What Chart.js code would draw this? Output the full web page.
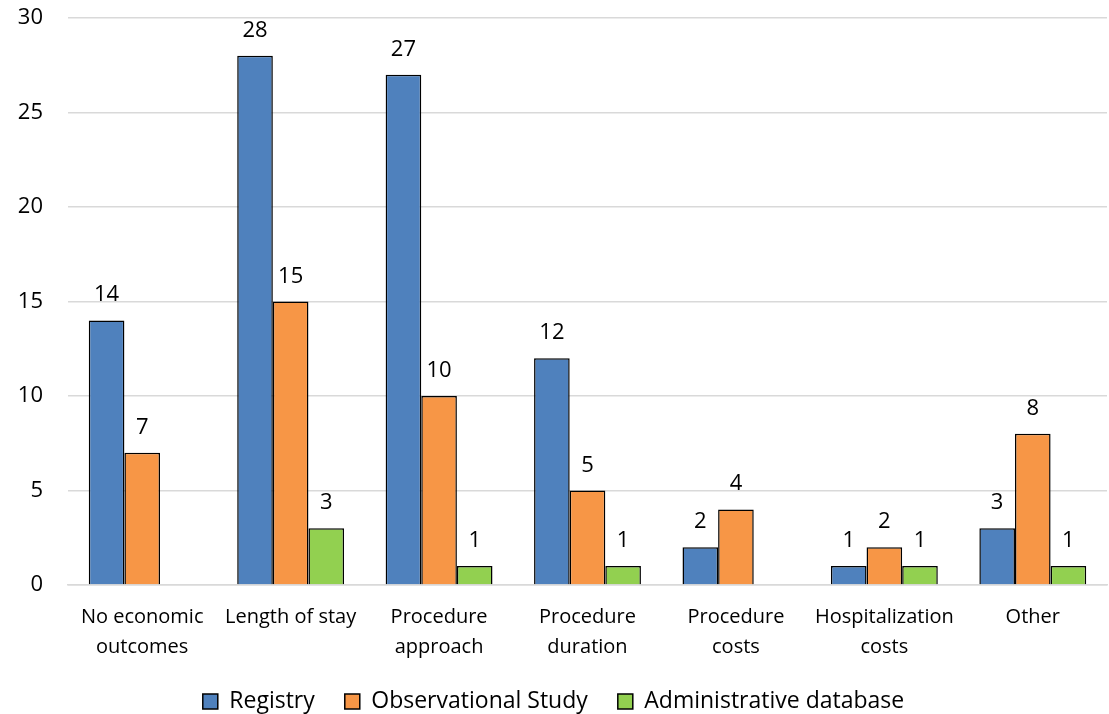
<!DOCTYPE html>
<html>
<head>
<meta charset="utf-8">
<script src="https://cdn.jsdelivr.net/npm/chart.js@4/dist/chart.umd.min.js"></script>
<style>
  html, body { margin: 0; padding: 0; background: #fff; }
  #wrap { width: 1109px; height: 714px; }
</style>
</head>
<body>
<div id="wrap"><canvas id="c" width="1109" height="714"></canvas></div>
<script>
const categories = [
  ['No economic', 'outcomes'],
  'Length of stay',
  ['Procedure', 'approach'],
  ['Procedure', 'duration'],
  ['Procedure', 'costs'],
  ['Hospitalization', 'costs'],
  'Other'
];
const registry = [14, 28, 27, 12, 2, 1, 3];
const observational = [7, 15, 10, 5, 4, 2, 8];
const administrative = [null, 3, 1, 1, null, 1, 1];
const yTicks = [0, 5, 10, 15, 20, 25, 30];

const FONT = '"Open Sans", sans-serif';

// Writes each bar's value above its top edge
const valueLabels = {
  id: 'valueLabels',
  afterDatasetsDraw(chart) {
    const ctx = chart.ctx;
    ctx.save();
    ctx.font = '22px ' + FONT;
    ctx.fillStyle = '#000';
    ctx.textAlign = 'center';
    ctx.textBaseline = 'alphabetic';
    chart.data.datasets.forEach((ds, i) => {
      const meta = chart.getDatasetMeta(i);
      meta.data.forEach((bar, j) => {
        const v = ds.data[j];
        if (v === null || v === undefined) return;
        ctx.fillText(String(v), bar.x, bar.y - 19);
      });
    });
    ctx.restore();
  }
};

new Chart(document.getElementById('c'), {
  type: 'bar',
  data: {
    labels: categories,
    datasets: [
      { label: 'Registry', data: registry, backgroundColor: '#4F81BD' },
      { label: 'Observational Study', data: observational, backgroundColor: '#F79646' },
      { label: 'Administrative database', data: administrative, backgroundColor: '#92D050' }
    ]
  },
  options: {
    responsive: false,
    animation: false,
    layout: { padding: { top: 18, right: 2, left: 0, bottom: -9 } },
    datasets: {
      bar: {
        borderColor: '#000',
        borderWidth: 1.5,
        categoryPercentage: 0.72,
        barPercentage: 1.0
      }
    },
    scales: {
      x: {
        grid: { display: false },
        border: { color: '#D9D9D9', width: 1.5 },
        ticks: {
          color: '#000',
          font: { family: FONT, size: 20, lineHeight: 1.5 },
          maxRotation: 0,
          autoSkip: false,
          padding: 9
        },
        afterFit(scale) { scale.height = 75; }
      },
      y: {
        min: 0,
        max: 30,
        afterBuildTicks(scale) { scale.ticks = yTicks.map(v => ({ value: v })); },
        grid: {
          color: '#D9D9D9',
          lineWidth: 1.5,
          drawTicks: true,
          tickLength: 25,
          tickColor: 'rgba(0,0,0,0)'
        },
        border: { display: false },
        ticks: {
          color: '#000',
          font: { family: FONT, size: 22 },
          padding: 0
        },
        afterFit(scale) { scale.width = 68; }
      }
    },
    plugins: {
      legend: {
        position: 'bottom',
        labels: {
          color: '#000',
          font: { family: FONT, size: 23 },
          boxWidth: 15,
          boxHeight: 15,
          padding: 30,
          generateLabels(chart) {
            return chart.data.datasets.map((ds, i) => ({
              text: ds.label,
              fillStyle: ds.backgroundColor,
              strokeStyle: '#000',
              lineWidth: 1.5,
              hidden: false,
              datasetIndex: i,
              fontColor: '#000'
            }));
          }
        }
      },
      tooltip: { enabled: false }
    }
  },
  plugins: [valueLabels]
});
</script>
</body>
</html>
